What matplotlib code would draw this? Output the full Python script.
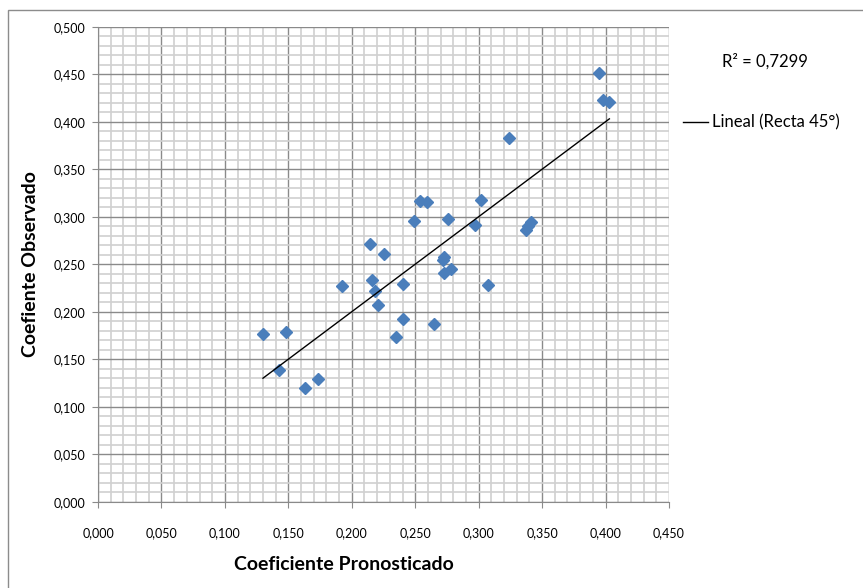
import numpy as np
import matplotlib.pyplot as plt
import matplotlib.ticker as ticker
from matplotlib.patches import Rectangle

plt.rcParams['font.family'] = ['Lato', 'DejaVu Sans']

# coeficiente pronosticado (x) vs observado (y)
pronosticado = [0.130, 0.148, 0.143, 0.163, 0.173, 0.192, 0.214, 0.225, 0.216,
                0.218, 0.221, 0.240, 0.240, 0.235, 0.249, 0.254, 0.259, 0.276,
                0.265, 0.273, 0.272, 0.273, 0.278, 0.297, 0.302, 0.307, 0.337,
                0.339, 0.341, 0.324, 0.395, 0.398, 0.403]
observado = [0.177, 0.179, 0.139, 0.120, 0.129, 0.227, 0.271, 0.261, 0.233,
             0.222, 0.207, 0.229, 0.192, 0.173, 0.295, 0.316, 0.315, 0.298,
             0.187, 0.258, 0.254, 0.241, 0.245, 0.291, 0.318, 0.228, 0.286,
             0.290, 0.294, 0.383, 0.451, 0.423, 0.421]
r2 = 0.7299

def coma(v, pos):
    return ('%.3f' % v).replace('.', ',')

fig = plt.figure(figsize=(8.63, 5.88), dpi=100)
fig.patches.append(Rectangle((8 / 863, -0.1), 1.2, 1 - 10 / 588 + 0.1,
                             transform=fig.transFigure, fill=False,
                             edgecolor='#8c8c8c', lw=1))
ax = fig.add_axes([0.1136, 0.1468, 0.6616, 0.8078])

ax.set_xlim(0, 0.45)
ax.set_ylim(0, 0.5)
ax.xaxis.set_major_locator(ticker.MultipleLocator(0.05))
ax.yaxis.set_major_locator(ticker.MultipleLocator(0.05))
ax.xaxis.set_minor_locator(ticker.MultipleLocator(0.01))
ax.yaxis.set_minor_locator(ticker.MultipleLocator(0.01))
ax.xaxis.set_major_formatter(ticker.FuncFormatter(coma))
ax.yaxis.set_major_formatter(ticker.FuncFormatter(coma))
ax.grid(which='minor', color='#d0d0d0', lw=1.2)
ax.grid(which='major', color='#8a8a8a', lw=1)
ax.set_axisbelow(True)
ax.tick_params(which='major', length=4, color='#8a8a8a', labelsize=9,
               direction='out')
ax.tick_params(axis='x', pad=14)
ax.tick_params(axis='y', pad=5)
ax.tick_params(which='minor', length=0)
for s in ['top', 'right']:
    ax.spines[s].set_visible(False)
for s in ['left', 'bottom']:
    ax.spines[s].set_color('#8a8a8a')

ax.plot(pronosticado, observado, 'D', color='#4a7ebb', ms=6.5,
        markeredgecolor='#4a7ebb', zorder=3)

# recta de 45 grados entre los extremos de x
xl = np.array([min(pronosticado), max(pronosticado)])
ax.plot(xl, xl, color='black', lw=1, zorder=4)

fig.text(30 / 863, 1 - 264 / 588, 'Coefiente Observado', rotation=90,
         ha='center', va='center', fontsize=14, fontweight='bold')
fig.text(344 / 863, 1 - 565 / 588, 'Coeficiente Pronosticado', ha='center',
         va='center', fontsize=14, fontweight='bold')

fig.text(722 / 863, 1 - 61 / 588, 'R² = ' + ('%.4f' % r2).replace('.', ','),
         ha='left', va='center', fontsize=12)
fig.lines.append(plt.Line2D([683 / 863, 708 / 863], [1 - 122 / 588] * 2,
                            transform=fig.transFigure, color='black', lw=1))
fig.text(712 / 863, 1 - 122 / 588, 'Lineal (Recta 45°)', ha='left',
         va='center', fontsize=12)

fig.savefig('out.png', dpi=100)
